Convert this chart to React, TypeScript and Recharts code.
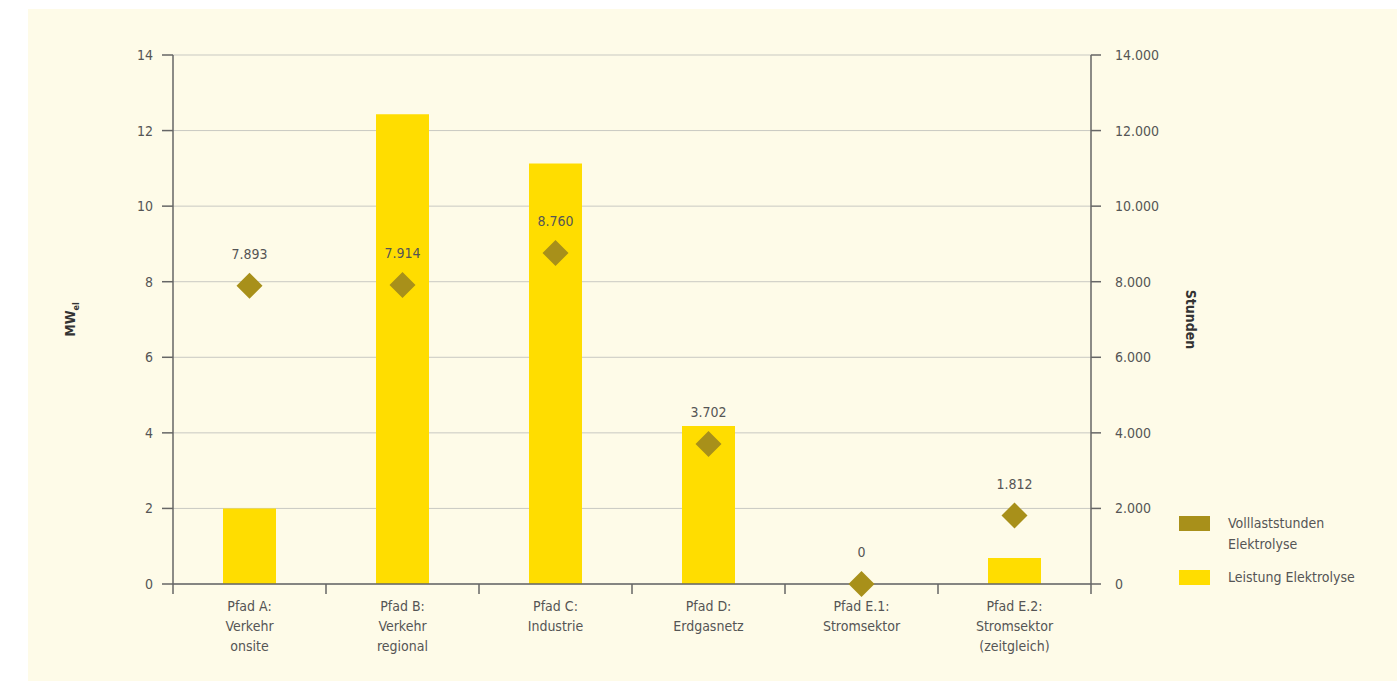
import React from 'react';
import {
  ComposedChart,
  Bar,
  Scatter,
  XAxis,
  YAxis,
  CartesianGrid,
} from 'recharts';

const PATHS = [
  'Pfad A:\nVerkehr\nonsite',
  'Pfad B:\nVerkehr\nregional',
  'Pfad C:\nIndustrie',
  'Pfad D:\nErdgasnetz',
  'Pfad E.1:\nStromsektor',
  'Pfad E.2:\nStromsektor\n(zeitgleich)',
];
const POWER_MW = [2, 12.43, 11.13, 4.18, 0, 0.69];
const FULL_LOAD_HOURS = [7893, 7914, 8760, 3702, 0, 1812];

const MW_TICKS = [0, 2, 4, 6, 8, 10, 12, 14];
const HOUR_TICKS = [0, 2000, 4000, 6000, 8000, 10000, 12000, 14000];

const SERIES_HOURS = 'Volllaststunden Elektrolyse';
const SERIES_POWER = 'Leistung Elektrolyse';

const data = PATHS.map((name, i) => ({
  name,
  power: POWER_MW[i],
  hours: FULL_LOAD_HOURS[i],
}));

const W = 1369;
const H = 672;
const LEFT_W = 145;
const RIGHT_W = 306;
const TOP = 46;
const XAXIS_H = 97;
const BAND = (W - LEFT_W - RIGHT_W) / PATHS.length;

const FONT = "'Liberation Sans Narrow', 'DejaVu Sans Condensed', 'Arial Narrow', sans-serif";
const TEXT = '#555555';
const AXIS = '#666666';
const BAR_COLOR = '#ffdd00';
const DIAMOND_COLOR = '#a8901a';
const BG = '#fefbe8';

const fmt = (v: number) => String(v).replace(/\B(?=(\d{3})+(?!\d))/g, '.');

function PathTick(props: any) {
  const { x, y, payload, index } = props;
  const lines = String(payload.value).split('\n');
  return (
    <g>
      <line x1={x - BAND / 2} x2={x - BAND / 2} y1={y} y2={y + 10} stroke={AXIS} strokeWidth={1.5} />
      {index === PATHS.length - 1 && (
        <line x1={x + BAND / 2} x2={x + BAND / 2} y1={y} y2={y + 10} stroke={AXIS} strokeWidth={1.5} />
      )}
      {lines.map((l, i) => (
        <text key={i} x={x} y={y + 27 + i * 20} textAnchor="middle" fill={TEXT} fontSize={14} fontFamily={FONT}>
          {l}
        </text>
      ))}
    </g>
  );
}

function Diamond(props: any) {
  const { cx, cy, payload } = props;
  if (cx == null || cy == null) return null;
  const r = 13;
  return (
    <g>
      <polygon
        points={`${cx},${cy - r} ${cx + r},${cy} ${cx},${cy + r} ${cx - r},${cy}`}
        fill={DIAMOND_COLOR}
      />
      <text x={cx} y={cy - 27} textAnchor="middle" fill={TEXT} fontSize={14} fontFamily={FONT}>
        {fmt(payload.hours)}
      </text>
    </g>
  );
}

function LegendRow({ color, label }: { color: string; label: string }) {
  return (
    <div style={{ display: 'flex', alignItems: 'flex-start', marginBottom: 12 }}>
      <div style={{ width: 31, height: 15, background: color, marginTop: 3, flexShrink: 0 }} />
      <div style={{ marginLeft: 18, width: 130, lineHeight: '21px', fontSize: 14, color: TEXT, fontFamily: FONT }}>
        {label}
      </div>
    </div>
  );
}

export default function App() {
  return (
    <div style={{ position: 'absolute', left: 28, top: 9, width: W, height: H, background: BG }}>
      <ComposedChart
        width={W}
        height={H}
        data={data}
        margin={{ top: TOP, right: 0, bottom: 0, left: 0 }}
        barCategoryGap={0}
      >
        <CartesianGrid yAxisId="left" vertical={false} stroke="#c9c9c2" strokeWidth={1} />
        <XAxis
          dataKey="name"
          height={XAXIS_H}
          axisLine={{ stroke: AXIS, strokeWidth: 1.5 }}
          tickLine={false}
          tickSize={0}
          tickMargin={0}
          interval={0}
          tick={<PathTick />}
        />
        <YAxis
          yAxisId="left"
          width={LEFT_W}
          domain={[0, 14]}
          ticks={MW_TICKS}
          interval={0}
          axisLine={{ stroke: AXIS, strokeWidth: 1.5 }}
          tickLine={{ stroke: AXIS, strokeWidth: 1.5 }}
          tickSize={11}
          tickMargin={9}
          tick={{ fill: TEXT, fontSize: 14, fontFamily: FONT }}
          label={{
            content: ({ viewBox }: any) => {
              const cx = viewBox.x + 47;
              const cy = viewBox.y + viewBox.height / 2;
              return (
                <text
                  x={cx}
                  y={cy}
                  transform={`rotate(-90 ${cx} ${cy})`}
                  textAnchor="middle"
                  fill="#333"
                  fontWeight="bold"
                  fontSize={14}
                  fontFamily={FONT}
                >
                  MW
                  <tspan fontSize={9} dy={4}>el</tspan>
                </text>
              );
            },
          }}
        />
        <YAxis
          yAxisId="right"
          orientation="right"
          width={RIGHT_W}
          domain={[0, 14000]}
          ticks={HOUR_TICKS}
          interval={0}
          axisLine={{ stroke: AXIS, strokeWidth: 1.5 }}
          tickLine={{ stroke: AXIS, strokeWidth: 1.5 }}
          tickSize={10}
          tickMargin={14}
          tickFormatter={fmt}
          tick={{ fill: TEXT, fontSize: 14, fontFamily: FONT }}
          label={{
            content: ({ viewBox }: any) => {
              const cx = viewBox.x + 95;
              const cy = viewBox.y + viewBox.height / 2;
              return (
                <text
                  x={cx}
                  y={cy}
                  transform={`rotate(90 ${cx} ${cy})`}
                  textAnchor="middle"
                  fill="#333"
                  fontWeight="bold"
                  fontSize={14}
                  fontFamily={FONT}
                >
                  Stunden
                </text>
              );
            },
          }}
        />
        <Bar
          yAxisId="left"
          dataKey="power"
          name={SERIES_POWER}
          fill={BAR_COLOR}
          barSize={53}
          isAnimationActive={false}
        />
        <Scatter
          yAxisId="right"
          dataKey="hours"
          name={SERIES_HOURS}
          shape={<Diamond />}
          isAnimationActive={false}
        />
      </ComposedChart>
      <div style={{ position: 'absolute', left: 1151, top: 504 }}>
        <LegendRow color={DIAMOND_COLOR} label={'Volllaststunden\nElektrolyse'.replace('\n', ' ')} />
        <LegendRow color={BAR_COLOR} label={SERIES_POWER} />
      </div>
    </div>
  );
}
